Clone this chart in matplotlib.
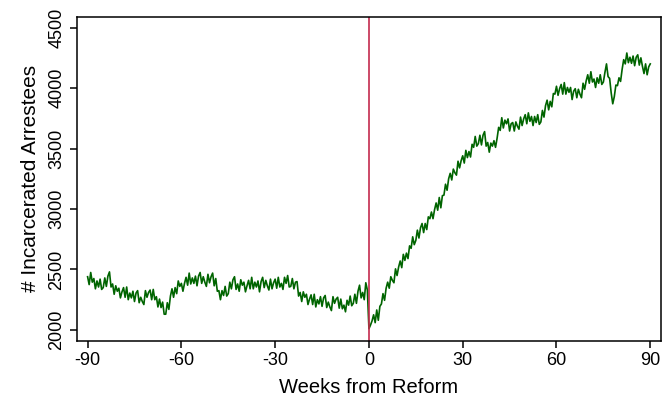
"""Incarcerated arrestees around the reform date (weeks -90..90)."""
import matplotlib
matplotlib.use("Agg")
import matplotlib.pyplot as plt
import numpy as np

plt.rcParams["font.family"] = ["Liberation Sans", "DejaVu Sans"]
plt.rcParams["axes.unicode_minus"] = False  # plain hyphen like the original

# half-week readings, week -90 .. +90
WEEK_STEP = 0.5
COUNTS = [
    2440, 2375, 2475, 2395, 2425, 2340, 2405, 2355, 2420, 2335,  # -90
    2350, 2430, 2360, 2445, 2480, 2355, 2380, 2295, 2365, 2320,  # -85
    2345, 2265, 2315, 2350, 2270, 2355, 2250, 2305, 2265, 2320,  # -80
    2235, 2305, 2325, 2225, 2270, 2235, 2210, 2325, 2270, 2310,  # -75
    2330, 2250, 2335, 2250, 2275, 2190, 2255, 2185, 2230, 2130,  # -70
    2130, 2225, 2170, 2280, 2340, 2270, 2350, 2300, 2405, 2360,  # -65
    2385, 2320, 2385, 2435, 2370, 2470, 2380, 2430, 2385, 2445,  # -60
    2365, 2445, 2475, 2385, 2440, 2395, 2360, 2460, 2390, 2440,  # -55
    2470, 2365, 2425, 2320, 2325, 2250, 2325, 2285, 2360, 2280,  # -50
    2300, 2395, 2340, 2415, 2440, 2335, 2380, 2320, 2415, 2370,  # -45
    2395, 2315, 2365, 2410, 2340, 2435, 2340, 2395, 2355, 2405,  # -40
    2315, 2400, 2435, 2350, 2410, 2365, 2330, 2420, 2340, 2390,  # -35
    2420, 2345, 2435, 2355, 2385, 2335, 2435, 2385, 2450, 2355,  # -30
    2360, 2425, 2340, 2395, 2400, 2280, 2310, 2235, 2315, 2270,  # -25
    2295, 2210, 2255, 2290, 2210, 2295, 2190, 2250, 2215, 2275,  # -20
    2195, 2265, 2285, 2185, 2230, 2190, 2160, 2275, 2220, 2255,  # -15
    2270, 2180, 2255, 2175, 2205, 2150, 2245, 2205, 2280, 2200,  # -10
    2220, 2295, 2220, 2320, 2370, 2265, 2310, 2250, 2390, 2330,  # -5
    2010, 2040, 2075, 2125, 2060, 2165, 2080, 2195, 2215, 2300,  # 0
    2245, 2345, 2395, 2345, 2440, 2410, 2390, 2505, 2450, 2520,  # 5
    2570, 2515, 2625, 2575, 2635, 2590, 2695, 2675, 2770, 2705,  # 10
    2740, 2825, 2760, 2845, 2880, 2805, 2880, 2830, 2935, 2920,  # 15
    2975, 2920, 2995, 3050, 2990, 3095, 3010, 3110, 3115, 3205,  # 20
    3155, 3250, 3295, 3240, 3330, 3300, 3280, 3395, 3340, 3400,  # 25
    3440, 3380, 3485, 3425, 3475, 3430, 3535, 3510, 3600, 3520,  # 30
    3540, 3610, 3530, 3610, 3640, 3520, 3550, 3470, 3545, 3520,  # 35
    3565, 3510, 3585, 3675, 3650, 3755, 3670, 3735, 3705, 3745,  # 40
    3645, 3705, 3715, 3645, 3720, 3685, 3660, 3760, 3690, 3745,  # 45
    3780, 3705, 3795, 3725, 3765, 3690, 3765, 3715, 3780, 3700,  # 50
    3720, 3815, 3760, 3855, 3900, 3820, 3890, 3845, 3955, 3950,  # 55
    4015, 3940, 3995, 4030, 3950, 4045, 3950, 4005, 3965, 4005,  # 60
    3905, 3975, 3995, 3920, 3990, 3950, 3920, 4040, 3990, 4060,  # 65
    4110, 4040, 4135, 4050, 4075, 4005, 4085, 4040, 4110, 4030,  # 70
    4050, 4130, 4200, 4095, 4080, 3960, 3870, 3930, 4025, 4020,  # 75
    4085, 4055, 4155, 4235, 4200, 4290, 4210, 4255, 4205, 4265,  # 80
    4185, 4255, 4275, 4190, 4250, 4180, 4120, 4200, 4110, 4175,  # 85
    4200,                                                        # 90
]
REFORM_WEEK = 0
X_TICKS = [-90, -60, -30, 0, 30, 60, 90]
Y_TICKS = [2000, 2500, 3000, 3500, 4000, 4500]

GREEN, RED = "#006400", "#c42a4e"

weeks = -90 + WEEK_STEP * np.arange(len(COUNTS))

fig = plt.figure(figsize=(6.72, 4.04), dpi=100)
ax = fig.add_axes([0.115, 0.157, 0.868, 0.801])

ax.plot(weeks, COUNTS, color=GREEN, lw=1.2)
ax.axvline(REFORM_WEEK, color=RED, lw=1.2)

ax.set_xlim(-93.3, 93.3)
ax.set_ylim(1912, 4588)
ax.set_xticks(X_TICKS)
ax.set_yticks(Y_TICKS)
ax.set_yticklabels([str(v) for v in Y_TICKS], rotation=90, va="center")
ax.tick_params(direction="out", length=5, width=1.1, labelsize=13, color="black")
for s in ax.spines.values():
    s.set_linewidth(1.1)

ax.set_xlabel("Weeks from Reform", fontsize=14.5, labelpad=6)
ax.set_ylabel("# Incarcerated Arrestees", fontsize=15, labelpad=6)

fig.savefig("out.png", dpi=100)
